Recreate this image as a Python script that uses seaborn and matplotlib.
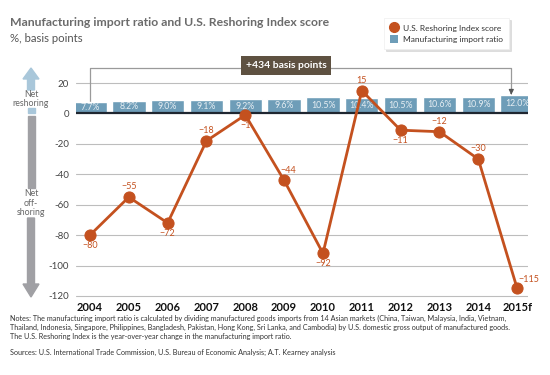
import numpy as np
import pandas as pd
import seaborn as sns
import matplotlib.pyplot as plt
from matplotlib.lines import Line2D
from matplotlib.patches import Patch, FancyArrow, Rectangle

years = ["2004", "2005", "2006", "2007", "2008", "2009", "2010", "2011", "2012", "2013", "2014", "2015f"]
import_ratio = [7.7, 8.2, 9.0, 9.1, 9.2, 9.6, 10.5, 10.4, 10.5, 10.6, 10.9, 12.0]
reshoring_index = [-80, -55, -72, -18, -1, -44, -92, 15, -11, -12, -30, -115]
y_ticks = [20, 0, -20, -40, -60, -80, -100, -120]
label_pos = ["below", "above", "below", "above", "below", "above", "below", "above", "below", "above", "above", "right"]

orange = "#C4511F"
blue = "#6E9DB8"
brown = "#5E5141"
grey_txt = "#555555"

sns.set_theme(style="white")
plt.rcParams["font.family"] = ["Lato", "DejaVu Sans"]

df = pd.DataFrame({"year": years, "ratio": import_ratio, "index": reshoring_index})
df["pos"] = np.arange(len(df))

W, H = 550, 375
fig = plt.figure(figsize=(5.5, 3.75), dpi=100)
ax = fig.add_axes([76 / W, 1 - 299 / H, (528 - 76) / W, (299 - 80) / H])

# gridlines
for t in y_ticks:
    if t != 0:
        ax.axhline(t, color="#BDBDBD", lw=0.8, zorder=0)

sns.barplot(data=df, x="year", y="ratio", color=blue, width=0.86, saturation=1, ax=ax, zorder=2)
ax.axhline(0, color="#1F2630", lw=1.6, zorder=3)

for i, v in enumerate(import_ratio):
    ax.text(i, v / 2 + 0.3, f"{v:.1f}%", ha="center", va="center", color="#E6EEF3", fontsize=6.3, zorder=4)

sns.lineplot(data=df, x="pos", y="index", color=orange, lw=2, marker="o", markersize=8,
             markeredgecolor=orange, ax=ax, zorder=5)

for i, (v, p) in enumerate(zip(reshoring_index, label_pos)):
    txt = f"{v}" if v > 0 else f"\u2212{-v}"
    if p == "above":
        dx = 0.1 if v == -44 else 0
        ax.text(i + dx, v + 3.8, txt, ha="center", va="bottom", color=orange, fontsize=6.5, zorder=6)
    elif p == "below":
        ax.text(i, v - 3.8, txt, ha="center", va="top", color=orange, fontsize=6.5, zorder=6)
    else:
        ax.text(i + 0.02, v + 3, txt, ha="left", va="bottom", color=orange, fontsize=6.5, zorder=6)

# +434 bracket
top = 30.2
ax.plot([0, 0, 10.85, 10.85], [import_ratio[0], top, top, import_ratio[-1] + 3], color="#9A9A9A", lw=0.9,
        zorder=1, clip_on=False)
ax.annotate("", xy=(10.85, import_ratio[-1] + 0.3), xytext=(10.85, import_ratio[-1] + 3.5),
            arrowprops=dict(arrowstyle="-|>", color="#555555", lw=0.9, mutation_scale=7), zorder=7,
            annotation_clip=False)
ax.text(5.05, 31.5, "+434 basis points", ha="center", va="center", color="white", fontsize=7.5,
        fontweight="bold", zorder=8,
        bbox=dict(boxstyle="square,pad=0.45", fc=brown, ec="none"))

ax.set_xlim(-0.36, 11.28)
ax.set_ylim(-122, 22)
ax.set_yticks(y_ticks)
ax.set_yticklabels([str(t) if t >= 0 else f"-{-t}" for t in y_ticks], fontsize=7, color="#444444")
ax.tick_params(axis="y", length=0, pad=5)
ax.tick_params(axis="x", length=0, pad=2)
ax.set_xticks(range(len(years)))
ax.set_xticklabels(years, fontsize=8, fontweight="bold", color="#111111")
ax.set_xlabel("")
ax.set_ylabel("")
for s in ax.spines.values():
    s.set_visible(False)

# left direction arrows (figure pixels, top-down y)
def fx(x):
    return x / W

def fy(y):
    return 1 - y / H

fig.add_artist(FancyArrow(fx(31), fy(90), 0, fy(68) - fy(90), width=7 / W, head_width=16 / W,
                          head_length=11 / H, length_includes_head=True, color="#A9C7DA",
                          transform=fig.transFigure))
fig.add_artist(Rectangle((fx(27.5), fy(113)), 7 / W, 5 / H, color="#A9C7DA", transform=fig.transFigure))
fig.add_artist(Rectangle((fx(27.5), fy(188)), 7 / W, 72 / H, color="#A0A0A4", transform=fig.transFigure))
fig.add_artist(FancyArrow(fx(31), fy(218), 0, fy(297) - fy(218), width=7 / W, head_width=16 / W,
                          head_length=13 / H, length_includes_head=True, color="#A0A0A4",
                          transform=fig.transFigure))
fig.text(fx(31), fy(99), "Net\nreshoring", ha="center", va="center", fontsize=6.3, color="#666666",
         linespacing=1.1)
fig.text(fx(31), fy(203), "Net\noff-\nshoring", ha="center", va="center", fontsize=6.3, color="#666666",
         linespacing=1.1)

# titles
fig.text(fx(10), fy(22), "Manufacturing import ratio and U.S. Reshoring Index score", ha="left",
         va="center", fontsize=8.8, fontweight="bold", color="#6B6B6B")
fig.text(fx(10), fy(38), "%, basis points", ha="left", va="center", fontsize=8.2, color=grey_txt)

# legend
handles = [Line2D([], [], marker="o", color="none", markerfacecolor=orange, markeredgecolor=orange, markersize=7),
           Patch(facecolor=blue, edgecolor="none")]
leg = fig.legend(handles, ["U.S. Reshoring Index score", "Manufacturing import ratio"],
                 loc="upper left", bbox_to_anchor=(fx(380), fy(14)), fontsize=6.0, frameon=True,
                 fancybox=False, shadow={"color": "0.75", "ox": 1.5, "oy": -1.5},
                 handlelength=1.0, handleheight=1.0, handletextpad=0.6, borderpad=0.7, labelspacing=0.45)
leg.get_frame().set_edgecolor("#EEEEEE")
leg.get_frame().set_linewidth(0.5)
for t in leg.get_texts():
    t.set_color("#333333")

notes = ("Notes: The manufacturing import ratio is calculated by dividing manufactured goods imports from 14 Asian markets "
         "(China, Taiwan, Malaysia, India, Vietnam,\nThailand, Indonesia, Singapore, Philippines, Bangladesh, Pakistan, "
         "Hong Kong, Sri Lanka, and Cambodia) by U.S. domestic gross output of manufactured goods.\n"
         "The U.S. Reshoring Index is the year-over-year change in the manufacturing import ratio.")
fig.text(fx(10), fy(315), notes, ha="left", va="top", fontsize=5.25, color="#333333", linespacing=1.3)
fig.text(fx(10), fy(352), "Sources: U.S. International Trade Commission, U.S. Bureau of Economic Analysis; A.T. Kearney analysis",
         ha="left", va="center", fontsize=5.25, color="#333333")

fig.savefig("out.png", dpi=100)
